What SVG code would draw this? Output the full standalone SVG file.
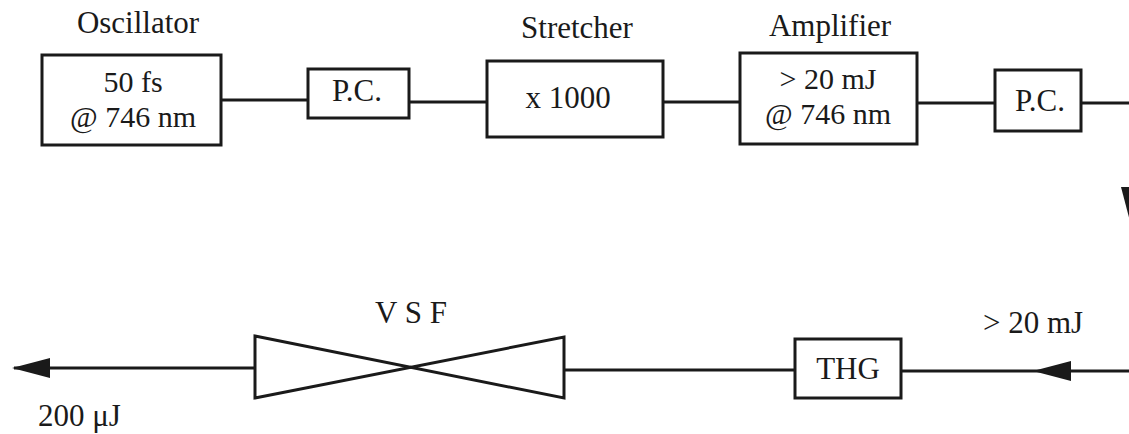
<svg xmlns="http://www.w3.org/2000/svg" width="1129" height="434" viewBox="0 0 1129 434">
<style>
  .box { fill: #ffffff; stroke: #1a1a1a; stroke-width: 3; }
  .wire { fill: none; stroke: #1a1a1a; stroke-width: 3; }
  text { font-family: "Liberation Serif", "Times New Roman", serif; font-size: 31px; fill: #1a1a1a; text-anchor: middle; }
  .inner { font-size: 30px; }
</style>
<defs>
  <marker id="arrow" markerUnits="userSpaceOnUse" markerWidth="38" markerHeight="22" viewBox="0 0 38 22" refX="36" refY="11" orient="auto">
    <path d="M0,1 L38,11 L0,21 Z" fill="#1a1a1a"/>
  </marker>
</defs>
<rect width="1129" height="434" fill="#ffffff"/>
<g id="connectors">
  <path class="wire" d="M221,100 H308"/>
  <path class="wire" d="M409,102 H487"/>
  <path class="wire" d="M663,102 H740"/>
  <path class="wire" d="M917,103 H995"/>
  <path class="wire" d="M1081,103 H1131 V223" marker-end="url(#arrow)"/>
  <path class="wire" d="M1131,221 V371 H1035" marker-end="url(#arrow)"/>
  <path class="wire" d="M1035,371 H901"/>
  <path class="wire" d="M795,370 H564"/>
  <path class="wire" d="M255,368 H14" marker-end="url(#arrow)"/>
</g>
<g id="oscillator">
  <text x="138" y="33">Oscillator</text>
  <rect class="box" x="42" y="55" width="179" height="90"/>
  <text class="inner" x="133" y="92">50 fs</text>
  <text class="inner" x="133" y="127">@ 746 nm</text>
</g>
<g id="pc1">
  <rect class="box" x="308" y="69" width="101" height="49"/>
  <text x="357" y="101">P.C.</text>
</g>
<g id="stretcher">
  <text x="577" y="38">Stretcher</text>
  <rect class="box" x="487" y="61" width="176" height="76"/>
  <text x="568" y="108">x 1000</text>
</g>
<g id="amplifier">
  <text x="830" y="36">Amplifier</text>
  <rect class="box" x="740" y="53" width="177" height="91"/>
  <text class="inner" x="828" y="89">&gt; 20 mJ</text>
  <text class="inner" x="828" y="124">@ 746 nm</text>
</g>
<g id="pc2">
  <rect class="box" x="995" y="70" width="86" height="61"/>
  <text x="1040" y="111">P.C.</text>
</g>
<g id="thg">
  <rect class="box" x="795" y="339" width="106" height="59"/>
  <text x="848" y="379">THG</text>
</g>
<g id="vsf">
  <text x="411" y="323">V S F</text>
  <path class="box" d="M255,336 L564,398 L564,337 L255,398 Z" style="fill:none"/>
</g>
<g id="labels">
  <text x="1033" y="333">&gt; 20 mJ</text>
  <text x="38" y="426" style="text-anchor:start">200 μJ</text>
</g>
</svg>
